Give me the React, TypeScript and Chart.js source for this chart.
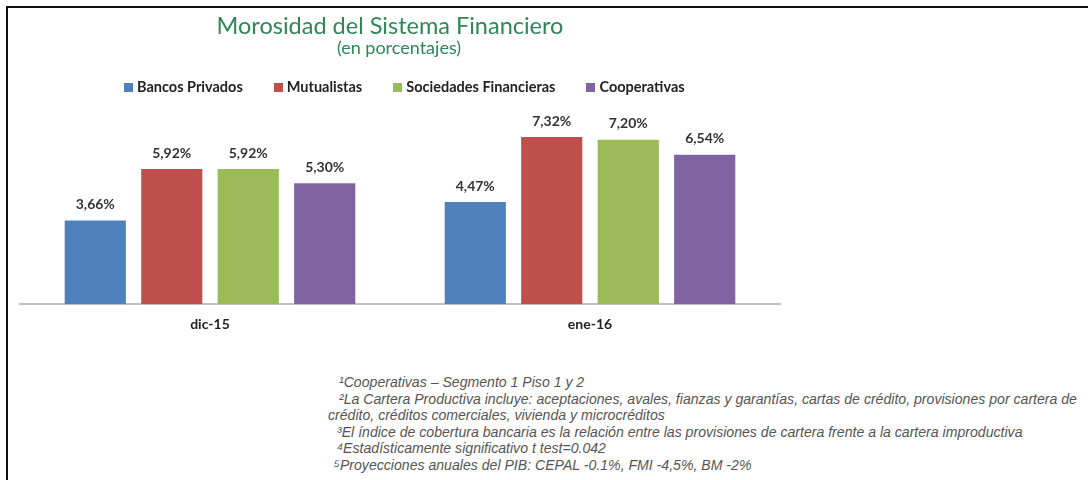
import React, { useEffect, useRef } from "react";
import { Chart, registerables } from "chart.js";

Chart.register(...registerables);

const categories = ["dic-15", "ene-16"];
const seriesNames = ["Bancos Privados", "Mutualistas", "Sociedades Financieras", "Cooperativas"];
const bancosPrivados = [3.66, 4.47];
const mutualistas = [5.92, 7.32];
const sociedadesFinancieras = [5.92, 7.2];
const cooperativas = [5.3, 6.54];
const seriesColors = ["#4f81bd", "#c0504d", "#9bbb59", "#8064a2"];
const titleText = "Morosidad del Sistema Financiero";
const subtitleText = "(en porcentajes)";
const footnotes = [
  "¹Cooperativas – Segmento 1 Piso 1 y 2",
  "²La Cartera Productiva incluye: aceptaciones, avales, fianzas y garantías, cartas de crédito, provisiones por cartera de",
  "crédito, créditos comerciales, vivienda y microcréditos",
  "³El índice de cobertura bancaria es la relación entre las provisiones de cartera frente a la cartera improductiva",
  "⁴Estadísticamente significativo t test=0.042",
  "⁵Proyecciones anuales del PIB: CEPAL -0.1%, FMI -4,5%, BM -2%",
];
const footnoteIndent = [339, 339, 328, 337, 337, 334];

const FONT = "Lato, 'Open Sans', sans-serif";
const TITLE_GREEN = "#2e8757";

const valueLabels = {
  id: "valueLabels",
  afterDatasetsDraw(chart: any) {
    const ctx = chart.ctx;
    ctx.save();
    ctx.font = `bold 14px ${FONT}`;
    ctx.fillStyle = "#333333";
    ctx.textAlign = "center";
    ctx.textBaseline = "middle";
    chart.data.datasets.forEach((ds: any, i: number) => {
      const meta = chart.getDatasetMeta(i);
      meta.data.forEach((el: any, j: number) => {
        const v = ds.data[j] as number;
        const txt = v.toFixed(2).replace(".", ",") + "%";
        ctx.fillText(txt, el.x, el.y - 16);
      });
    });
    ctx.restore();
  },
};

export default function App() {
  const ref = useRef<HTMLCanvasElement>(null);
  useEffect(() => {
    document.body.style.margin = "0";
    const values = [bancosPrivados, mutualistas, sociedadesFinancieras, cooperativas];
    const chart = new Chart(ref.current as HTMLCanvasElement, {
      type: "bar",
      data: {
        labels: categories,
        datasets: seriesNames.map((name, i) => ({
          label: name,
          data: values[i],
          backgroundColor: seriesColors[i],
          borderWidth: 0,
        })),
      },
      options: {
        animation: false,
        responsive: false,
        maintainAspectRatio: false,
        layout: { padding: { left: 20, right: 20, top: 121.5, bottom: 0 } },
        datasets: { bar: { categoryPercentage: 0.805, barPercentage: 0.8 } },
        plugins: {
          title: { display: false },
          legend: { display: false },
          tooltip: { enabled: false },
        },
        scales: {
          x: {
            grid: { display: false, drawTicks: false },
            border: { display: true, color: "#c0c0c0", width: 2 },
            ticks: { color: "#222222", font: { family: FONT, size: 14, weight: "bold" }, padding: 12 },
          },
          y: {
            display: false,
            min: 0,
            max: 8,
          },
        },
      },
      plugins: [valueLabels],
    });
    return () => chart.destroy();
  }, []);

  return (
    <div
      style={{
        position: "fixed",
        left: 0,
        top: 0,
        width: 1088,
        height: 480,
        background: "#fff",
        overflow: "hidden",
        fontFamily: FONT,
      }}
    >
      <div style={{ position: "absolute", left: 6, top: 6, width: 1100, height: 2, background: "#111" }} />
      <div style={{ position: "absolute", left: 6, top: 6, width: 2, height: 480, background: "#111" }} />
      <canvas
        ref={ref}
        width={800}
        height={345}
        style={{ position: "absolute", left: 0, top: 0, width: 800, height: 345 }}
      />
      <div
        style={{
          position: "absolute",
          left: 0,
          width: 780,
          top: 10,
          textAlign: "center",
          fontSize: 23.5,
          lineHeight: "30px",
          color: TITLE_GREEN,
        }}
      >
        {titleText}
      </div>
      <div
        style={{
          position: "absolute",
          left: 0,
          width: 798,
          top: 35,
          textAlign: "center",
          fontSize: 18,
          lineHeight: "24px",
          color: TITLE_GREEN,
        }}
      >
        {subtitleText}
      </div>
      <div
        style={{
          position: "absolute",
          left: 124,
          top: 78,
          display: "flex",
          alignItems: "center",
          gap: 31,
          fontSize: 14.5,
          fontWeight: 700,
          color: "#222",
          lineHeight: "18px",
          whiteSpace: "nowrap",
        }}
      >
        {seriesNames.map((n, i) => (
          <div key={n} style={{ display: "flex", alignItems: "center", gap: 4 }}>
            <span style={{ display: "inline-block", width: 9, height: 9, background: seriesColors[i] }} />
            <span>{n}</span>
          </div>
        ))}
      </div>
      {footnotes.map((t, i) => (
        <div
          key={i}
          style={{
            position: "absolute",
            left: footnoteIndent[i],
            top: 374 + i * 16.5,
            whiteSpace: "nowrap",
            fontFamily: "'Liberation Sans', Arial, sans-serif",
            fontStyle: "italic",
            fontSize: 14.1,
            color: "#555",
            lineHeight: "16px",
          }}
        >
          {t}
        </div>
      ))}
    </div>
  );
}
